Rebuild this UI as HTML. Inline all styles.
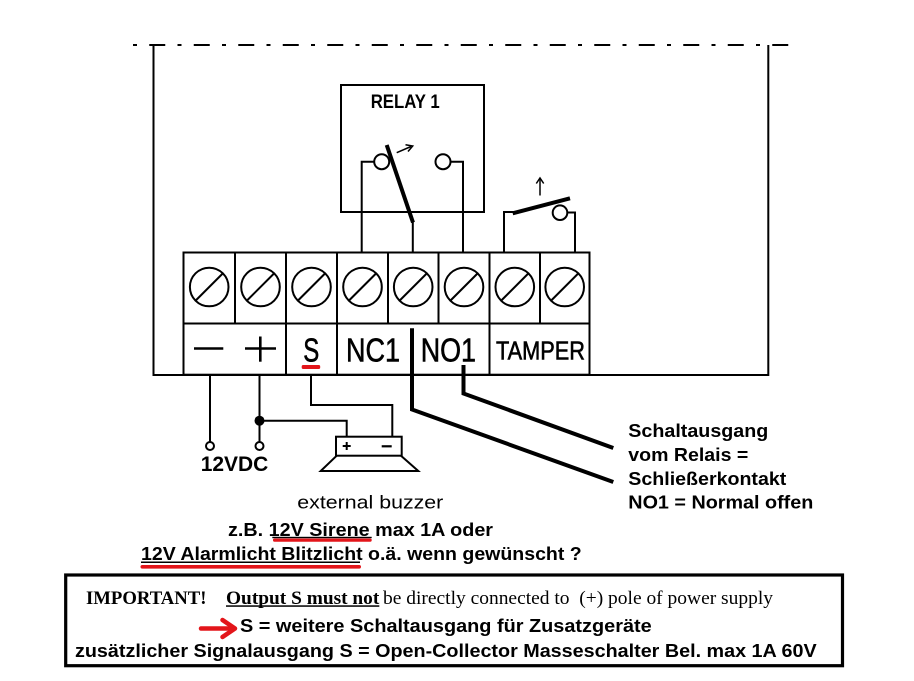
<!DOCTYPE html>
<html><head><meta charset="utf-8"><style>
html,body{margin:0;padding:0;background:#fff;}
svg{display:block;}
text{font-family:"Liberation Sans",Arial,sans-serif;}
.b{font-weight:bold;}
.s{font-family:"Liberation Serif","Times New Roman",serif;}
.t{stroke:#000;stroke-width:0.6;}
</style></head><body>
<svg width="914" height="681" viewBox="0 0 914 681" xmlns="http://www.w3.org/2000/svg">
<rect width="914" height="681" fill="#fff"/>
<!-- dashed top line -->
<line x1="133" y1="45" x2="790" y2="45" stroke="#000" stroke-width="2" stroke-dasharray="4 12.25 16 12.25"/>
<!-- frame -->
<polyline points="153.5,45 153.5,375 768.3,375 768.3,45" fill="none" stroke="#000" stroke-width="2"/>
<!-- relay box -->
<rect x="341" y="85" width="143" height="127" fill="none" stroke="#000" stroke-width="2"/>
<text x="370.7" y="108" class="b" font-size="19" textLength="69" lengthAdjust="spacingAndGlyphs">RELAY 1</text>
<!-- relay wires -->
<polyline points="373.7,161.7 361.7,161.7 361.7,252" fill="none" stroke="#000" stroke-width="2"/>
<polyline points="451,161.7 463,161.7 463,252" fill="none" stroke="#000" stroke-width="2"/>
<line x1="412.8" y1="221" x2="412.8" y2="252" stroke="#000" stroke-width="2"/>
<circle cx="381.7" cy="161.7" r="7.5" fill="#fff" stroke="#000" stroke-width="2"/>
<circle cx="443" cy="161.7" r="7.5" fill="#fff" stroke="#000" stroke-width="2"/>
<line x1="386.7" y1="145" x2="413" y2="222.5" stroke="#000" stroke-width="4"/>
<!-- small arrow -->
<line x1="396.7" y1="152.7" x2="411" y2="146.5" stroke="#000" stroke-width="1.5"/>
<polyline points="405.5,144.8 412.7,146 408,151.5" fill="none" stroke="#000" stroke-width="1.5"/>
<!-- tamper switch -->
<polyline points="504,252 504,212 514,212" fill="none" stroke="#000" stroke-width="2"/>
<polyline points="567,212.5 575,212.5 575,252" fill="none" stroke="#000" stroke-width="2"/>
<circle cx="560" cy="212.7" r="7.3" fill="#fff" stroke="#000" stroke-width="2"/>
<line x1="512.7" y1="213.3" x2="570" y2="198.3" stroke="#000" stroke-width="4"/>
<line x1="540" y1="195.5" x2="540" y2="179.5" stroke="#000" stroke-width="1.5"/>
<polyline points="536.3,183.5 540,178 543.7,183.5" fill="none" stroke="#000" stroke-width="1.5"/>
<!-- terminal block -->
<rect x="183.5" y="252.5" width="406" height="122.2" fill="#fff" stroke="#000" stroke-width="2"/>
<line x1="183.5" y1="323.5" x2="589.5" y2="323.5" stroke="#000" stroke-width="2"/>
<g stroke="#000" stroke-width="2">
<line x1="235" y1="252.5" x2="235" y2="323.5"/>
<line x1="286" y1="252.5" x2="286" y2="374.7"/>
<line x1="337" y1="252.5" x2="337" y2="374.7"/>
<line x1="388" y1="252.5" x2="388" y2="323.5"/>
<line x1="438.5" y1="252.5" x2="438.5" y2="323.5"/>
<line x1="489.5" y1="252.5" x2="489.5" y2="374.7"/>
<line x1="540" y1="252.5" x2="540" y2="323.5"/>
</g>
<g fill="none" stroke="#000" stroke-width="2">
<circle cx="209.2" cy="287" r="19.3"/><line x1="195.7" y1="300.5" x2="222.7" y2="273.5"/>
<circle cx="260.5" cy="287" r="19.3"/><line x1="247" y1="300.5" x2="274" y2="273.5"/>
<circle cx="311.5" cy="287" r="19.3"/><line x1="298" y1="300.5" x2="325" y2="273.5"/>
<circle cx="362.5" cy="287" r="19.3"/><line x1="349" y1="300.5" x2="376" y2="273.5"/>
<circle cx="413.2" cy="287" r="19.3"/><line x1="399.7" y1="300.5" x2="426.7" y2="273.5"/>
<circle cx="464" cy="287" r="19.3"/><line x1="450.5" y1="300.5" x2="477.5" y2="273.5"/>
<circle cx="514.8" cy="287" r="19.3"/><line x1="501.3" y1="300.5" x2="528.3" y2="273.5"/>
<circle cx="564.7" cy="287" r="19.3"/><line x1="551.2" y1="300.5" x2="578.2" y2="273.5"/>
</g>
<!-- labels -->
<line x1="194" y1="348.5" x2="223.3" y2="348.5" stroke="#000" stroke-width="2.6"/>
<line x1="245" y1="348.5" x2="276" y2="348.5" stroke="#000" stroke-width="2.6"/>
<line x1="260.3" y1="336.5" x2="260.3" y2="361.7" stroke="#000" stroke-width="2.6"/>
<text x="303.3" y="361.6" class="t" font-size="33" textLength="16" lengthAdjust="spacingAndGlyphs">S</text>
<rect x="301.7" y="365" width="18.5" height="4" rx="1.5" fill="#e3151a"/>
<text x="346" y="361.6" class="t" font-size="33" textLength="54" lengthAdjust="spacingAndGlyphs">NC1</text>
<text x="420.7" y="361.6" class="t" font-size="33" textLength="55.3" lengthAdjust="spacingAndGlyphs">NO1</text>
<text x="496" y="359.4" class="t" font-size="26" textLength="89" lengthAdjust="spacingAndGlyphs">TAMPER</text>
<!-- thick output wires -->
<polyline points="412,328.3 412,409.5 613.3,482" fill="none" stroke="#000" stroke-width="4"/>
<polyline points="463.5,365 463.5,393.5 613.3,448" fill="none" stroke="#000" stroke-width="4"/>
<!-- power & buzzer wiring -->
<g fill="none" stroke="#000" stroke-width="2">
<line x1="210" y1="375" x2="210" y2="442"/>
<line x1="259.5" y1="375" x2="259.5" y2="442"/>
<polyline points="259.5,420.7 346.7,420.7 346.7,436.7"/>
<polyline points="311,375 311,405 392.3,405 392.3,436.7"/>
<rect x="336" y="436.7" width="65.7" height="19"/>
<polyline points="336.7,455.7 320.7,471 418.3,471 401,455.7"/>
</g>
<circle cx="210" cy="446" r="4" fill="#fff" stroke="#000" stroke-width="2"/>
<circle cx="259.5" cy="446" r="4" fill="#fff" stroke="#000" stroke-width="2"/>
<circle cx="259.5" cy="420.7" r="5" fill="#000"/>
<line x1="342.7" y1="446" x2="350.7" y2="446" stroke="#000" stroke-width="2"/>
<line x1="346.7" y1="442" x2="346.7" y2="450" stroke="#000" stroke-width="2"/>
<line x1="381.7" y1="446.3" x2="391.7" y2="446.3" stroke="#000" stroke-width="2.2"/>
<text x="200.7" y="471" class="b" font-size="21" textLength="67.6" lengthAdjust="spacingAndGlyphs">12VDC</text>
<text x="297.3" y="508.3" font-size="18.5" textLength="146" lengthAdjust="spacingAndGlyphs">external buzzer</text>
<!-- right annotation -->
<text x="628.3" y="437" class="b" font-size="18" textLength="140" lengthAdjust="spacingAndGlyphs">Schaltausgang</text>
<text x="628.3" y="461" class="b" font-size="18" textLength="120" lengthAdjust="spacingAndGlyphs">vom Relais =</text>
<text x="628.3" y="485" class="b" font-size="18" textLength="158" lengthAdjust="spacingAndGlyphs">Schließerkontakt</text>
<text x="628.3" y="508.3" class="b" font-size="18" textLength="185" lengthAdjust="spacingAndGlyphs">NO1 = Normal offen</text>
<!-- middle notes -->
<text x="228" y="536" class="b" font-size="18" textLength="265" lengthAdjust="spacingAndGlyphs">z.B. 12V Sirene max 1A oder</text>
<rect x="272.3" y="536.8" width="99.4" height="1.4" fill="#000"/>
<rect x="273" y="538.5" width="98.7" height="3.2" rx="1.5" fill="#e3151a"/>
<text x="141" y="560" class="b" font-size="18" textLength="440.7" lengthAdjust="spacingAndGlyphs">12V Alarmlicht Blitzlicht o.ä. wenn gewünscht ?</text>
<rect x="141" y="561.5" width="219" height="1.5" fill="#000"/>
<rect x="140.5" y="565" width="220.5" height="3.6" rx="1.8" fill="#e3151a"/>
<!-- important box -->
<rect x="65.7" y="575" width="776.8" height="90.7" fill="none" stroke="#000" stroke-width="3.2"/>
<text x="86" y="604" class="s b" font-size="19" textLength="120.5" lengthAdjust="spacingAndGlyphs">IMPORTANT!</text>
<text x="226" y="604" class="s b" font-size="19" textLength="153.3" lengthAdjust="spacingAndGlyphs">Output S must not</text>
<rect x="226" y="605.3" width="153.3" height="1.5" fill="#000"/>
<text x="383" y="604" class="s" font-size="19" textLength="390" lengthAdjust="spacingAndGlyphs">be directly connected to&#160; (+) pole of power supply</text>
<polyline points="201,628.5 233,628.5" fill="none" stroke="#e3151a" stroke-width="4.5" stroke-linecap="round"/>
<polyline points="222.5,620 235,628.5 222.5,637" fill="none" stroke="#e3151a" stroke-width="4.5" stroke-linecap="round" stroke-linejoin="round"/>
<text x="240" y="632" class="b" font-size="18" textLength="411.7" lengthAdjust="spacingAndGlyphs">S = weitere Schaltausgang für Zusatzgeräte</text>
<text x="75" y="657" class="b" font-size="18" textLength="741.7" lengthAdjust="spacingAndGlyphs">zusätzlicher Signalausgang S = Open-Collector Masseschalter Bel. max 1A 60V</text>
</svg>
</body></html>
